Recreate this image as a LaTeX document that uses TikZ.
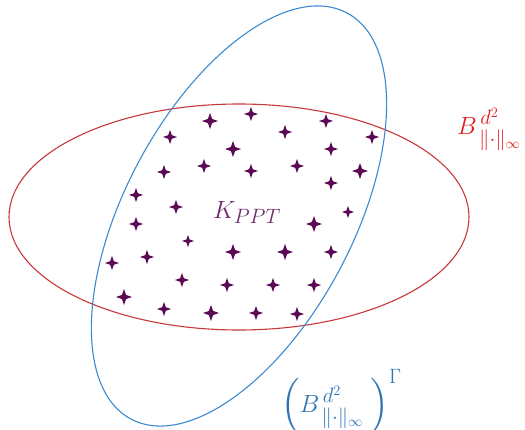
\documentclass[tikz,border=0pt]{standalone}
\usepackage{amsmath,amssymb}
\usepackage{tikz}
\definecolor{NormRed}{HTML}{C8373A}
\definecolor{LabelRed}{HTML}{E0201E}
\definecolor{NormBlue}{HTML}{3C8AD0}
\definecolor{LabelBlue}{HTML}{2E74B5}
\definecolor{StarPurple}{HTML}{5A0A55}
\definecolor{TextPurple}{HTML}{6E2A6E}

\begin{document}
\begin{tikzpicture}[
    x=1pt,y=-1pt,
    redell/.style={draw=NormRed,line width=1.1pt},
    blueell/.style={draw=NormBlue,line width=1.1pt},
    sparkle/.style={fill=StarPurple},
    biglbl/.style={inner sep=0pt,font=\fontsize{31}{36}\selectfont},
  ]
  \useasboundingbox (0,0) rectangle (525,429);
  % The two norm balls (same ellipse, one turned)
  \draw[redell] (239,217) ellipse [x radius=230, y radius=113];
  \draw[blueell,rotate around={62:(239,216)}] (239,216) ellipse [x radius=230, y radius=114];
  % Points of the PPT set
  \foreach \x/\y/\s in {210/121/8, 251/114/7, 326/121/7, 170/137/7, 285/132/7, 372/137/7,
      233/149/8, 331/149/7, 204/166/7, 297/166/7, 164/172/7, 251/171/7, 360/171/8,
      331/183/7, 136/195/7, 176/207/7, 348/212/6, 136/224/7, 314/224/8, 188/241/6,
      233/252/8, 285/252/8, 331/252/7, 147/257/7, 112/263/7, 182/280/7, 227/285/7,
      273/285/7, 314/285/7, 124/297/8, 164/309/7, 211/313/8, 256/313/7, 297/314/7}
    \fill[sparkle] (\x,\y) +(0,-\s) -- +(0.26*\s,-0.26*\s) -- +(\s,0) -- +(0.26*\s,0.26*\s)
      -- +(0,\s) -- +(-0.26*\s,0.26*\s) -- +(-\s,0) -- +(-0.26*\s,-0.26*\s) -- cycle;
  % Labels
  \node[biglbl,anchor=base,TextPurple] (kppt) at (247,218) {$K_{PPT}$};
  \node[biglbl,anchor=base west,LabelRed] (ballinf) at (457,134)
    {$B^{\,d^2}_{\,\|\cdot\|_\infty}$};
  \node[biglbl,anchor=base west,LabelBlue] (ballpt) at (281,412)
    {$\biggl(B^{\,d^2}_{\,\|\cdot\|_\infty}\;\biggr)^{\Gamma}$};
\end{tikzpicture}
\end{document}
